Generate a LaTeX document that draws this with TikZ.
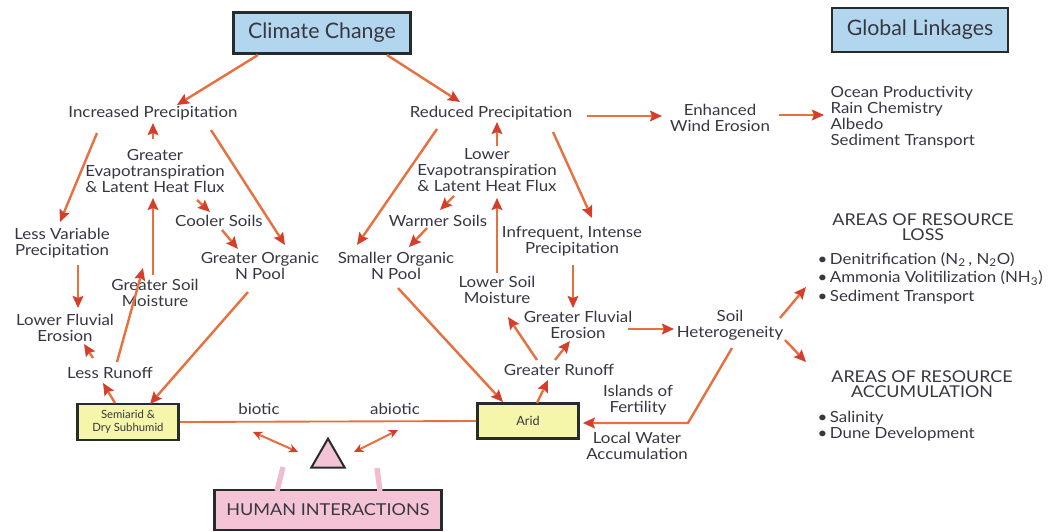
\documentclass[tikz,border=0pt]{standalone}
\usepackage{fontspec}
\setmainfont{Lato}
\newfontfamily\bodyfont{Lato}[FakeStretch=1.1]
\usetikzlibrary{arrows.meta,calc,shapes.geometric}
\definecolor{txt}{RGB}{55,55,66}
\definecolor{arr}{RGB}{232,112,62}
\definecolor{arrh}{RGB}{214,62,44}
\definecolor{bluebox}{RGB}{178,214,238}
\definecolor{yelbox}{RGB}{246,246,170}
\definecolor{pinkbox}{RGB}{244,196,214}
\definecolor{pinkline}{RGB}{242,188,208}
\definecolor{boxline}{RGB}{38,44,44}
\begin{document}
\begin{tikzpicture}[x=0.75pt,y=-0.75pt,
  lbl/.style={font=\bodyfont\fontsize{11.5}{12}\selectfont, text=txt, align=center, inner sep=1pt},
  caps/.style={font=\bodyfont\fontsize{12.2}{11.4}\selectfont, text=txt, align=center, inner sep=1pt},
  ar/.style={draw=arr, line width=1.8pt, -{Stealth[length=9pt,width=8pt,inset=1.5pt,color=arrh]}},
  dar/.style={draw=arr, line width=1.5pt, {Stealth[length=7pt,width=6.5pt,color=arrh]}-{Stealth[length=7pt,width=6.5pt,color=arrh]}},
  titlebox/.style={draw=boxline, fill=bluebox, line width=1.8pt, text=txt, font=\fontsize{16}{18}\selectfont, inner sep=0pt},
  ybox/.style={draw=boxline, fill=yelbox, line width=1.8pt, text=txt, align=center, inner sep=0pt, font=\fontsize{8.5}{10}\selectfont},
  hbox/.style={draw=boxline, fill=pinkbox, line width=1.8pt, text=txt, inner sep=0pt, font=\bodyfont\fontsize{12.3}{14}\selectfont},
  pl/.style={draw=pinkline, line width=4pt}
]
\fill[white] (0,0) rectangle (1061,532);
\useasboundingbox (0,0) rectangle (1061,532);

% boxes
\node[titlebox, minimum width=133pt, minimum height=31pt] (cc) at (322,33) {Climate Change};
\node[titlebox, minimum width=132pt, minimum height=33pt] (gl) at (920,30) {Global Linkages};
\node[ybox, minimum width=76pt, minimum height=27pt] (sa) at (128,422) {Semiarid \&\\Dry Subhumid};
\node[ybox, minimum width=76pt, minimum height=26pt, font=\fontsize{9.5}{10}\selectfont] (ar) at (528,421) {Arid};
\node[hbox, minimum width=170pt, minimum height=30pt] (hi) at (328,510) {HUMAN INTERACTIONS};
\node[draw=boxline, fill=pinkbox, line width=1.5pt, regular polygon, regular polygon sides=3, minimum size=29pt, inner sep=0pt] (tri) at (328,458) {};

% labels
\node[lbl] (ip) at (153,113) {Increased Precipitation};
\node[lbl] (rp) at (491,113) {Reduced Precipitation};
\node[lbl] (we) at (720,118) {Enhanced\\Wind Erosion};
\node[lbl, anchor=west, align=left] (glist) at (829,117) {Ocean Productivity\\Rain Chemistry\\Albedo\\Sediment Transport};
\node[lbl] (get) at (155,171) {Greater\\Evapotranspiration\\\& Latent Heat Flux};
\node[lbl] (let) at (487,170) {Lower\\Evapotranspiration\\\& Latent Heat Flux};
\node[lbl] (cs) at (219,221) {Cooler Soils};
\node[lbl] (ws) at (438,221) {Warmer Soils};
\node[lbl] (lvp) at (62,243) {Less Variable\\Precipitation};
\node[lbl] (gon) at (260,266) {Greater Organic\\N Pool};
\node[lbl] (son) at (396,266) {Smaller Organic\\N Pool};
\node[lbl] (iip) at (572,241) {Infrequent, Intense\\Precipitation};
\node[lbl] (gsm) at (155,293) {Greater Soil\\Moisture};
\node[lbl] (lsm) at (497,290) {Lower Soil\\Moisture};
\node[lbl] (lfe) at (65,328) {Lower Fluvial\\Erosion};
\node[lbl] (gfe) at (578,325) {Greater Fluvial\\Erosion};
\node[lbl] (sh) at (730,325) {Soil\\Heterogeneity};
\node[lbl] (lr) at (110,373) {Less Runoff};
\node[lbl] (gr) at (559,370) {Greater Runoff};
\node[caps] (arl) at (923,227) {AREAS OF RESOURCE\\LOSS};
\node[lbl, anchor=west, align=left, font=\bodyfont\fontsize{11.5}{13.8}\selectfont] (lossl) at (816,278) {\textbullet\,Denitrification (N\textsubscript{2}\,, N\textsubscript{2}O)\\\textbullet\,Ammonia Volitilization (NH\textsubscript{3})\\\textbullet\,Sediment Transport};
\node[caps] (aracc) at (922,384) {AREAS OF RESOURCE\\ACCUMULATION};
\node[lbl, anchor=west, align=left] (accl) at (816,426) {\textbullet\,Salinity\\\textbullet\,Dune Development};
\node[lbl] (bio) at (259,409) {biotic};
\node[lbl] (abio) at (395,409) {abiotic};
\node[lbl] (isl) at (638,400) {Islands of\\Fertility};
\node[lbl] (lwa) at (637,446) {Local Water\\Accumulation};
\coordinate (lossend) at (806,287);
\coordinate (accend) at (806,362);

% connectors
\draw[ar] ($(cc)+(-64,22)$) -- ($(ip)+(24,-8)$);
\draw[ar] ($(cc)+(65,22)$) -- ($(rp)+(-31,-11)$);
\draw[ar] ($(get)+(-2,-32)$) -- ($(ip)+(0,10)$);
\draw[ar] ($(ip)+(-56,20)$) -- ($(lvp)+(-2,-21)$);
\draw[ar] ($(ip)+(58,17)$) -- ($(gon)+(25,-21)$);
\draw[ar] ($(get)+(42,29)$) -- ($(cs)+(-9,-9)$);
\draw[ar] ($(cs)+(3,9)$) -- ($(gon)+(-22,-17)$);
\draw[ar] ($(gsm)+(-2,-18)$) -- ($(get)+(-2,27)$);
\draw[ar] ($(lvp)+(16,22)$) -- ($(lfe)+(13,-20)$);
\draw[ar] ($(lr)+(7,-11)$) -- ($(gsm)+(-12,-25)$);
\draw[ar] ($(lr)+(-17,-15)$) -- ($(lfe)+(19,16)$);
\draw[ar] ($(sa)+(-13,-19)$) -- ($(lr)+(-7,10)$);
\draw[ar] ($(gon)+(-12,26)$) -- ($(sa)+(22,-18)$);
\draw[ar] ($(rp)+(-54,16)$) -- ($(son)+(-39,-21)$);
\draw[ar] ($(let)+(10,-24)$) -- ($(rp)+(6,9)$);
\draw[ar] ($(rp)+(62,19)$) -- ($(iip)+(20,-23)$);
\draw[ar] ($(let)+(-33,26)$) -- ($(ws)+(2,-11)$);
\draw[ar] ($(ws)+(-11,7)$) -- ($(son)+(13,-19)$);
\draw[ar] ($(lsm)+(0,-17)$) -- ($(let)+(10,28)$);
\draw[ar] ($(iip)+(1,24)$) -- ($(gfe)+(-5,-17)$);
\draw[ar] ($(gr)+(-22,-10)$) -- ($(lsm)+(11,27)$);
\draw[ar] ($(gr)+(-4,-10)$) -- ($(gfe)+(-8,16)$);
\draw[ar] ($(ar)+(9,-18)$) -- ($(gr)+(-11,10)$);
\draw[ar] ($(son)+(2,22)$) -- ($(ar)+(-25,-19)$);
\draw[ar] ($(gfe)+(50,4)$) -- ($(sh)+(-56,4)$);
\draw[ar] ($(sh)+(50,-7)$) -- (lossend);
\draw[ar] ($(sh)+(55,15)$) -- (accend);
\draw[ar] ($(sh)+(2,23)$) -- ($(ar)+(160,2)$) -- ($(ar.east)+(3,2)$);
\draw[ar] ($(rp)+(96,3)$) -- ($(we)+(-58,-2)$);
\draw[ar] ($(we)+(59,-3)$) -- ($(glist.west)+(-5,-2)$);
\draw[draw=arr, line width=1.4pt] (sa.east) -- (ar.west);
\draw[dar] ($(bio)+(-6,23)$) -- ($(tri)+(-30,-6)$);
\draw[dar] ($(abio)+(3,21)$) -- ($(tri)+(26,-6)$);
\draw[pl] ($(hi)+(-51,-19)$) -- ($(tri)+(-45,9)$);
\draw[pl] ($(hi)+(52,-19)$) -- ($(tri)+(49,10)$);
\end{tikzpicture}
\end{document}
